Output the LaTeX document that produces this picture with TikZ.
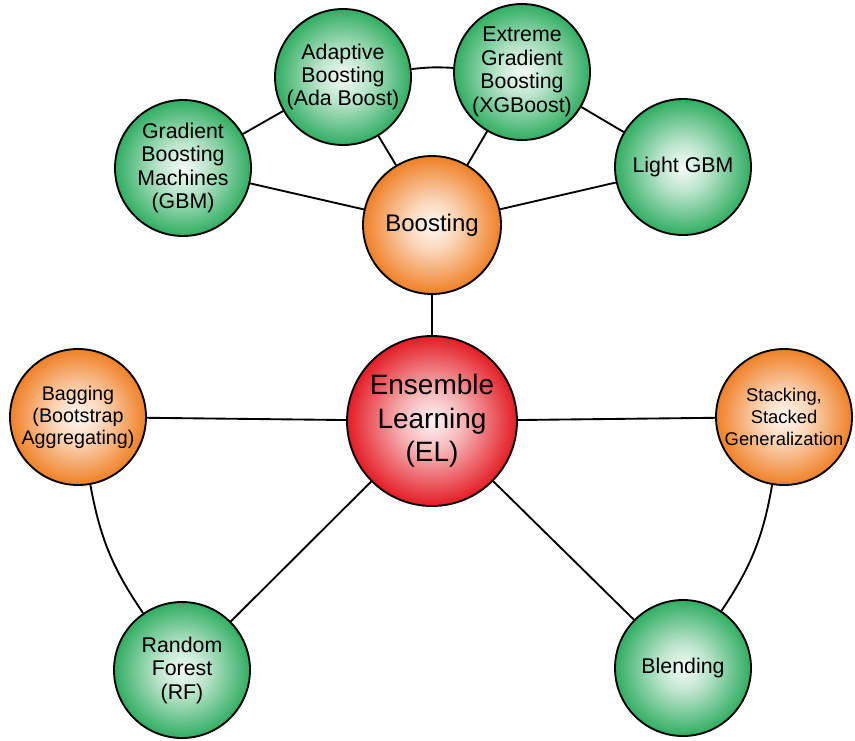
\documentclass[tikz,border=0pt]{standalone}
\usepackage{fontspec}
\setmainfont{Liberation Sans}
\definecolor{gr}{RGB}{48,174,98}
\definecolor{org}{RGB}{240,128,38}
\definecolor{rd}{RGB}{228,28,36}
\pgfdeclareradialshading{greenball}{\pgfpointorigin}{color(0bp)=(gr!5!white); color(9bp)=(gr!32!white); color(25bp)=(gr); color(50bp)=(gr)}
\pgfdeclareradialshading{orangeball}{\pgfpointorigin}{color(0bp)=(org!5!white); color(9bp)=(org!32!white); color(25bp)=(org); color(50bp)=(org)}
\pgfdeclareradialshading{redball}{\pgfpointorigin}{color(0bp)=(rd!5!white); color(9bp)=(rd!32!white); color(25bp)=(rd); color(50bp)=(rd)}
\tikzset{
  bub/.style={circle, draw=black, line width=1.4pt, inner sep=0pt, align=center, minimum size=102pt},
  gnode/.style={bub, shading=greenball, font=\fontsize{16}{17.6}\selectfont},
  onode/.style={bub, shading=orangeball},
  rnode/.style={bub, shading=redball, minimum size=127.5pt, font=\fontsize{21}{25}\selectfont},
  link/.style={line width=1.4pt, draw=black}
}
\begin{document}
\begin{tikzpicture}[x=0.75pt,y=-0.75pt]
\useasboundingbox (0,0) rectangle (855,740);
\fill[white] (0,0) rectangle (855,740);
\node[rnode] (el) at (432,421) {Ensemble\\Learning\\(EL)};
\node[onode, minimum size=103.5pt, font=\fontsize{18}{21}\selectfont] (bst) at (432,225) {Boosting};
\node[gnode] (gbm) at (183,168) {Gradient\\Boosting\\Machines\\(GBM)};
\node[gnode] (ada) at (343,77) {Adaptive\\Boosting\\(Ada Boost)};
\node[gnode] (xgb) at (522,72) {Extreme\\Gradient\\Boosting\\(XGBoost)};
\node[gnode] (lgbm) at (683,167) {Light GBM};
\node[onode, font=\fontsize{14.8}{16.5}\selectfont] (bag) at (78,417) {Bagging\\(Bootstrap\\Aggregating)};
\node[onode, font=\fontsize{13.8}{16.5}\selectfont] (stk) at (784,417) {Stacking,\\Stacked\\Generalization};
\node[gnode] (rf) at (182,670) {Random\\Forest\\(RF)};
\node[gnode] (bld) at (683,668) {Blending};
\draw[link] (bst) -- (el);
\draw[link] (bag) -- (el);
\draw[link] (stk) -- (el);
\draw[link] (rf) -- (el);
\draw[link] (bld) -- (el);
\draw[link] (gbm) -- (bst);
\draw[link] (ada) -- (bst);
\draw[link] (xgb) -- (bst);
\draw[link] (lgbm) -- (bst);
\draw[link] (gbm) -- (ada);
\draw[link] (ada) to[bend left=5] (xgb);
\draw[link] (xgb) -- (lgbm);
\draw[link] (bag) to[bend right=12] (rf);
\draw[link] (stk) to[bend left=12] (bld);
\end{tikzpicture}
\end{document}
